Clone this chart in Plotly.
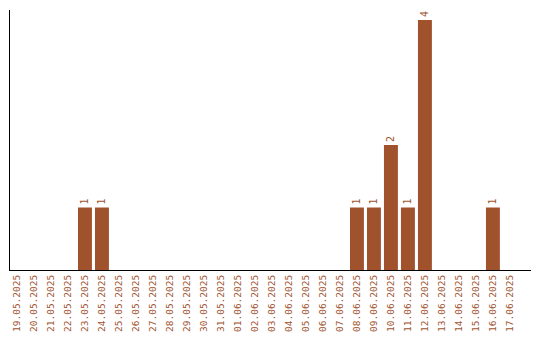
import plotly.graph_objects as go

dates = ["19.05.2025", "20.05.2025", "21.05.2025", "22.05.2025", "23.05.2025",
         "24.05.2025", "25.05.2025", "26.05.2025", "27.05.2025", "28.05.2025",
         "29.05.2025", "30.05.2025", "31.05.2025", "01.06.2025", "02.06.2025",
         "03.06.2025", "04.06.2025", "05.06.2025", "06.06.2025", "07.06.2025",
         "08.06.2025", "09.06.2025", "10.06.2025", "11.06.2025", "12.06.2025",
         "13.06.2025", "14.06.2025", "15.06.2025", "16.06.2025", "17.06.2025"]
counts = [0, 0, 0, 0, 1, 1, 0, 0, 0, 0, 0, 0, 0, 0, 0,
          0, 0, 0, 0, 0, 1, 1, 2, 1, 4, 0, 0, 0, 1, 0]

color = "#a0522d"
labels = [str(c) if c > 0 else "" for c in counts]

fig = go.Figure(go.Bar(
    x=list(range(len(dates))), y=counts, marker_color=color, marker_line_width=0,
    text=labels, textposition="outside", textangle=-90,
    textfont=dict(family="DejaVu Sans Mono", size=10, color=color),
    cliponaxis=False,
))
fig.update_layout(
    width=540, height=340, margin=dict(l=10, r=9, t=10, b=70),
    paper_bgcolor="white", plot_bgcolor="white", showlegend=False,
    bargap=0.18,
    xaxis=dict(range=[-0.41, 30.24], tickmode="array", tickvals=list(range(len(dates))),
               ticktext=dates, tickangle=-90, showgrid=False, zeroline=False,
               showline=True, linecolor="black", linewidth=1, ticks="",
               automargin=False,
               tickfont=dict(family="DejaVu Sans Mono", size=9.5, color=color)),
    yaxis=dict(range=[0, 4.16], showgrid=False, zeroline=False, showline=True,
               automargin=False,
               linecolor="black", linewidth=1, showticklabels=False, ticks=""),
)
fig.write_html("out.html")
